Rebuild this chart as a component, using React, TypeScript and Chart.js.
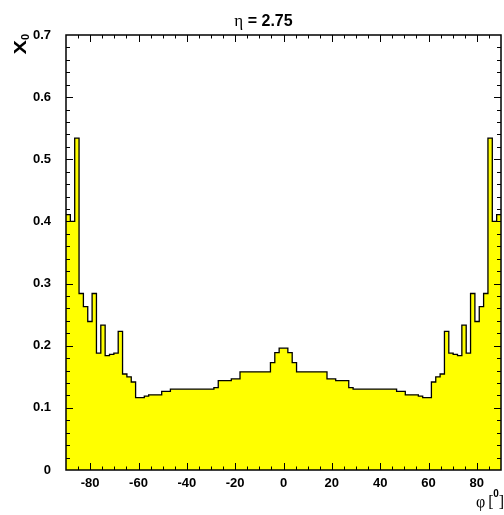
import { useEffect, useRef } from "react";
import { Chart, registerables } from "chart.js";

Chart.register(...registerables);

// Material budget X0 versus azimuth phi at eta = 2.75, 100 bins of 1.8 degrees
const PHI_MIN = -90;
const PHI_MAX = 90;
const BIN_WIDTH = 1.8;

const x0Values = [
  0.411, 0.4, 0.534, 0.284, 0.263, 0.239, 0.284, 0.188, 0.233, 0.184,
  0.186, 0.188, 0.223, 0.1545, 0.15, 0.1416, 0.1164, 0.1164, 0.119, 0.121,
  0.121, 0.121, 0.1266, 0.1266, 0.13, 0.13, 0.13, 0.13, 0.13, 0.13,
  0.13, 0.13, 0.13, 0.13, 0.1325, 0.1438, 0.1438, 0.1438, 0.1465, 0.1465,
  0.158, 0.158, 0.158, 0.158, 0.158, 0.158, 0.158, 0.1727, 0.189, 0.196,
  0.196, 0.189, 0.1727, 0.158, 0.158, 0.158, 0.158, 0.158, 0.158, 0.158,
  0.1465, 0.1465, 0.1438, 0.1438, 0.1438, 0.1325, 0.13, 0.13, 0.13, 0.13,
  0.13, 0.13, 0.13, 0.13, 0.13, 0.13, 0.1266, 0.1266, 0.121, 0.121,
  0.121, 0.119, 0.1164, 0.1164, 0.1416, 0.15, 0.1545, 0.223, 0.188, 0.186,
  0.184, 0.233, 0.188, 0.284, 0.239, 0.263, 0.284, 0.534, 0.4, 0.411,
];

const phiTicks = [-80, -60, -40, -20, 0, 20, 40, 60, 80];
const x0Ticks = [0, 0.1, 0.2, 0.3, 0.4, 0.5, 0.6, 0.7];
const PHI_MINOR_STEP = 5;
const X0_MINOR_STEP = 0.02;
const X0_MAX = 0.7;

const SANS = "'Liberation Sans', Arial, Helvetica, sans-serif";
const SERIF = "'Liberation Serif', 'DejaVu Serif', serif";

// Frame with inward-pointing ticks on all four sides, plus titles
const framePlugin = {
  id: "frameTicks",
  afterDatasetsDraw(chart: any) {
    const { ctx, chartArea: a, scales } = chart;
    const xs = scales.x;
    const ys = scales.y;
    ctx.save();
    ctx.strokeStyle = "#000";
    ctx.lineWidth = 1;
    ctx.beginPath();
    // phi ticks
    for (let v = PHI_MIN + PHI_MINOR_STEP; v < PHI_MAX - 1e-6; v += PHI_MINOR_STEP) {
      const major = phiTicks.some((t) => Math.abs(t - v) < 1e-6);
      const len = major ? 7 : 3.5;
      const px = Math.round(xs.getPixelForValue(v)) + 0.5;
      ctx.moveTo(px, a.bottom);
      ctx.lineTo(px, a.bottom - len);
      ctx.moveTo(px, a.top);
      ctx.lineTo(px, a.top + len);
    }
    // X0 ticks
    for (let v = X0_MINOR_STEP; v < X0_MAX - 1e-6; v += X0_MINOR_STEP) {
      const major = x0Ticks.some((t) => Math.abs(t - v) < 1e-6);
      const len = major ? 7 : 4;
      const py = Math.round(ys.getPixelForValue(v)) + 0.5;
      ctx.moveTo(a.left, py);
      ctx.lineTo(a.left + len, py);
      ctx.moveTo(a.right, py);
      ctx.lineTo(a.right - len, py);
    }
    ctx.stroke();
    ctx.lineWidth = 1.5;
    ctx.strokeRect(a.left, a.top, a.right - a.left, a.bottom - a.top);
    ctx.restore();
  },
  afterDraw(chart: any) {
    const { ctx, chartArea: a } = chart;
    ctx.save();
    ctx.fillStyle = "#000";
    ctx.textBaseline = "alphabetic";

    // Title: eta = 2.75
    const etaFont = `17px ${SERIF}`;
    const restFont = `bold 16px ${SANS}`;
    const etaText = "\u03b7";
    const restText = " = 2.75";
    ctx.font = etaFont;
    const wEta = ctx.measureText(etaText).width;
    ctx.font = restFont;
    const wRest = ctx.measureText(restText).width;
    const tx = 263.5 - (wEta + wRest) / 2;
    ctx.font = etaFont;
    ctx.fillText(etaText, tx, 26);
    ctx.font = restFont;
    ctx.fillText(restText, tx + wEta, 26);

    // Y title: X with subscript 0, rotated, right-aligned to frame top
    ctx.save();
    ctx.translate(26, a.top - 1);
    ctx.rotate(-Math.PI / 2);
    ctx.font = `bold 11px ${SANS}`;
    const wSub = ctx.measureText("0").width;
    ctx.fillText("0", -wSub, 3);
    ctx.font = `bold 16px ${SANS}`;
    const wX = ctx.measureText("X").width;
    const stretch = 1.35;
    ctx.save();
    ctx.translate(-wSub - wX * stretch, 0);
    ctx.scale(stretch, 1);
    ctx.fillText("X", 0, 0);
    ctx.restore();
    ctx.restore();

    // X title: phi [0], superscript degree marker inside the brackets
    const base = 507;
    const titleFont = `16px ${SERIF}`;
    const supFont = `bold 10px ${SANS}`;
    const sx = 476;
    ctx.font = titleFont;
    const wPhi = ctx.measureText("\u03c6").width;
    ctx.fillText("\u03c6", sx, base);
    const lbX = sx + wPhi + 3;
    ctx.fillText("[", lbX, base);
    ctx.font = supFont;
    ctx.fillText("0", lbX + 5, base - 10);
    ctx.font = titleFont;
    ctx.fillText("]", lbX + 10.5, base);
    ctx.restore();
  },
};

export default function App() {
  const canvasRef = useRef<HTMLCanvasElement | null>(null);

  useEffect(() => {
    const canvas = canvasRef.current;
    if (!canvas) return;

    // Left edge of each bin carries that bin's value; last point closes the final bin
    const points = x0Values.map((v, i) => ({ x: PHI_MIN + i * BIN_WIDTH, y: v }));
    points.push({ x: PHI_MAX, y: x0Values[x0Values.length - 1] });

    const chart = new Chart(canvas, {
      type: "line",
      data: {
        datasets: [
          {
            data: points,
            stepped: "before",
            fill: "origin",
            backgroundColor: "#ffff00",
            borderColor: "#000000",
            borderWidth: 1.3,
            pointRadius: 0,
            tension: 0,
          },
        ],
      },
      options: {
        animation: false,
        responsive: false,
        events: [],
        layout: { padding: { top: 35, right: 3, left: 0, bottom: 0 } },
        plugins: {
          legend: { display: false },
          tooltip: { enabled: false },
          title: { display: false },
        },
        scales: {
          x: {
            type: "linear",
            min: PHI_MIN,
            max: PHI_MAX,
            border: { display: false },
            grid: { display: false, drawTicks: false },
            afterBuildTicks: (scale: any) => {
              scale.ticks = phiTicks.map((v) => ({ value: v }));
            },
            afterFit: (scale: any) => {
              scale.height = 45;
            },
            ticks: {
              autoSkip: false,
              maxRotation: 0,
              padding: 6,
              color: "#000",
              font: { family: SANS, size: 13, weight: "bold" },
              callback: (v: any) => String(v),
            },
          },
          y: {
            type: "linear",
            min: 0,
            max: X0_MAX,
            border: { display: false },
            grid: { display: false, drawTicks: false },
            afterBuildTicks: (scale: any) => {
              scale.ticks = x0Ticks.map((v) => ({ value: v }));
            },
            afterFit: (scale: any) => {
              scale.width = 66;
            },
            ticks: {
              padding: 15,
              color: "#000",
              font: { family: SANS, size: 13, weight: "bold" },
              callback: (v: any) => String(Math.round(Number(v) * 10) / 10),
            },
          },
        },
      },
      plugins: [framePlugin],
    });

    return () => chart.destroy();
  }, []);

  return (
    <div style={{ position: "absolute", left: 0, top: 0, width: 504, height: 515, background: "#fff" }}>
      <canvas ref={canvasRef} width={504} height={515} style={{ display: "block" }} />
    </div>
  );
}
